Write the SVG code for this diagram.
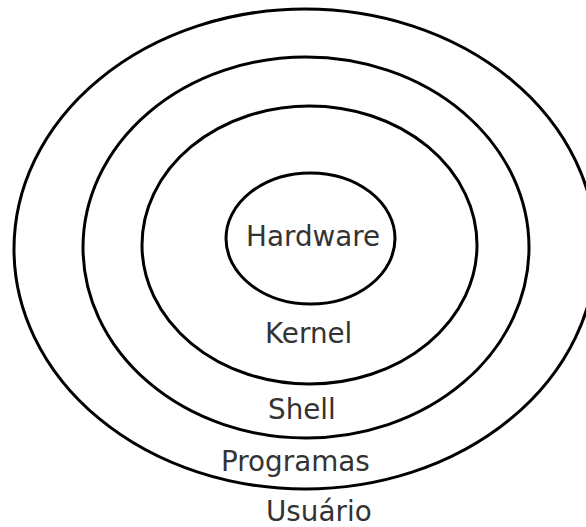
<svg xmlns="http://www.w3.org/2000/svg" width="586" height="527" viewBox="0 0 586 527">
<style>
.ring{fill:none;stroke:#000;stroke-width:3}
.lbl{font-family:"DejaVu Sans",Verdana,sans-serif;font-size:27.8px;fill:#333}
</style>
<rect width="586" height="527" fill="#fff"/>
<g id="usuario">
<ellipse class="ring" cx="305" cy="249" rx="291" ry="240"/>
<text class="lbl" x="266" y="521">Usuário</text>
</g>
<g id="programas">
<ellipse class="ring" cx="306" cy="247.5" rx="223" ry="190.5"/>
<text class="lbl" x="221" y="471">Programas</text>
</g>
<g id="shell">
<ellipse class="ring" cx="309.5" cy="245" rx="167.5" ry="139"/>
<text class="lbl" x="268" y="419">Shell</text>
</g>
<g id="kernel">
<text class="lbl" x="265" y="343">Kernel</text>
</g>
<g id="hardware">
<ellipse class="ring" cx="310.5" cy="238.5" rx="84.5" ry="65.5"/>
<text class="lbl" x="246" y="246">Hardware</text>
</g>
<g id="connectors"/>
</svg>
